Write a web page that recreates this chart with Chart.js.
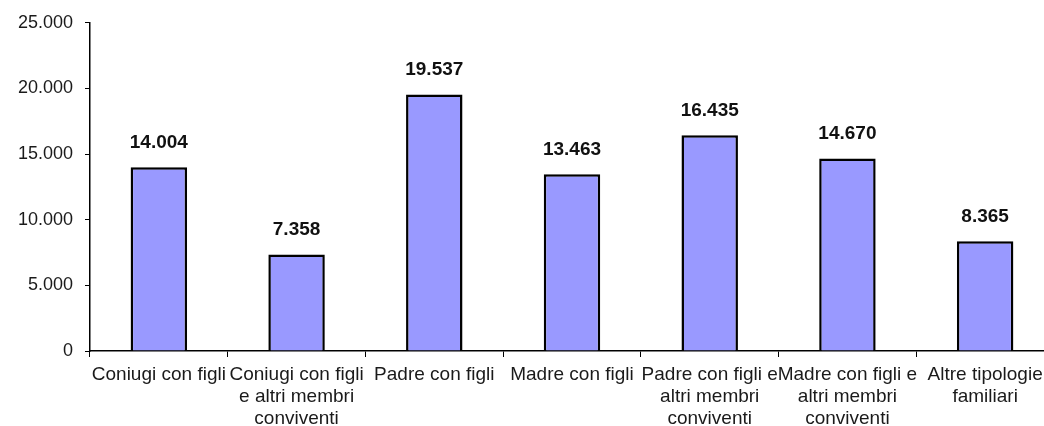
<!DOCTYPE html>
<html>
<head>
<meta charset="utf-8">
<script src="https://cdn.jsdelivr.net/npm/chart.js@4.4.1/dist/chart.umd.min.js"></script>
<style>
  html, body { margin: 0; padding: 0; background: #fff; overflow: hidden; }
  #wrap { width: 1060px; height: 426px; }
</style>
</head>
<body>
<div id="wrap"><canvas id="chart" width="1060" height="426"></canvas></div>
<script>
// categories (multi-line labels as in the original)
const categories = [
  'Coniugi con figli',
  ['Coniugi con figli', 'e altri membri', 'conviventi'],
  'Padre con figli',
  'Madre con figli',
  ['Padre con figli e', 'altri membri', 'conviventi'],
  ['Madre con figli e', 'altri membri', 'conviventi'],
  ['Altre tipologie', 'familiari']
];
const values = [14004, 7358, 19537, 13463, 16435, 14670, 8365];
const yTicks = [0, 5000, 10000, 15000, 20000, 25000];

const fmt = v => String(Math.round(v)).replace(/\B(?=(\d{3})+(?!\d))/g, '.');

// value labels above bars
const barLabels = {
  id: 'barLabels',
  afterDatasetsDraw(chart) {
    const ctx = chart.ctx;
    const meta = chart.getDatasetMeta(0);
    ctx.save();
    ctx.font = 'bold 19px "Liberation Sans", Arial, sans-serif';
    ctx.fillStyle = '#111';
    ctx.textAlign = 'center';
    ctx.textBaseline = 'bottom';
    meta.data.forEach((bar, i) => {
      ctx.fillText(fmt(values[i]), bar.x, bar.y - 15);
    });
    ctx.restore();
  }
};

new Chart(document.getElementById('chart'), {
  type: 'bar',
  data: {
    labels: categories,
    datasets: [{
      data: values,
      backgroundColor: '#9999FF',
      borderColor: '#000',
      borderWidth: 2.5,
      categoryPercentage: 1,
      barPercentage: 0.41
    }]
  },
  options: {
    responsive: false,
    animation: false,
    layout: { padding: { top: 14, right: 6, left: 0, bottom: 0 } },
    plugins: { legend: { display: false }, tooltip: { enabled: false } },
    scales: {
      x: {
        offset: true,
        grid: { display: true, offset: true, drawOnChartArea: false, color: '#000', tickLength: 6, lineWidth: 1 },
        border: { color: '#000', width: 1.5 },
        ticks: {
          color: '#1a1a1a',
          maxRotation: 0,
          autoSkip: false,
          padding: 7,
          font: { family: '"Liberation Sans", Arial, sans-serif', size: 19, lineHeight: 1.16 }
        },
        afterFit(scale) { scale.height = 75; }
      },
      y: {
        min: 0,
        max: 25000,
        afterBuildTicks(scale) { scale.ticks = yTicks.map(v => ({ value: v })); },
        grid: { display: true, drawOnChartArea: false, color: '#000', tickLength: 5, lineWidth: 1 },
        border: { color: '#000', width: 1.5 },
        ticks: {
          color: '#1a1a1a',
          padding: 12,
          callback: v => fmt(v),
          font: { family: '"Liberation Sans", Arial, sans-serif', size: 18 }
        },
        afterFit(scale) { scale.width = 90; }
      }
    }
  },
  plugins: [barLabels]
});
</script>
</body>
</html>
